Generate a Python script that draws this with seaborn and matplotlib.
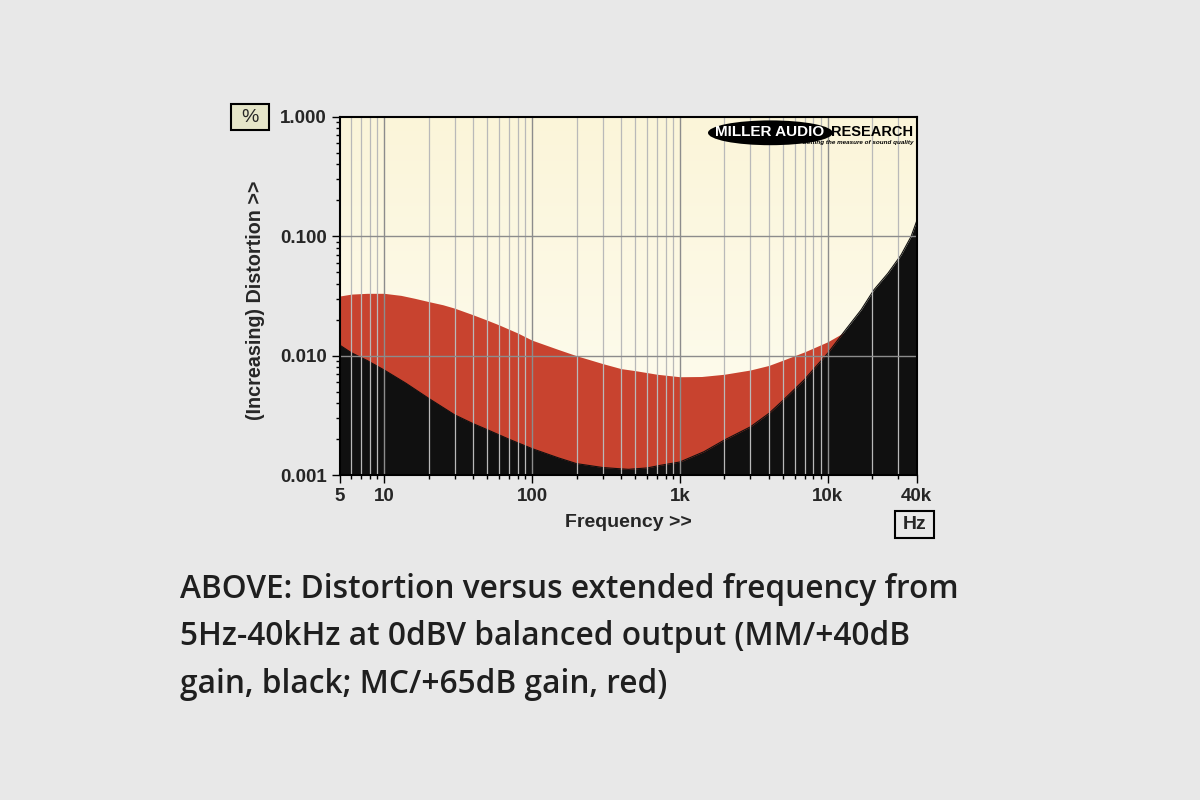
import matplotlib
matplotlib.use("Agg")
import matplotlib.pyplot as plt
import matplotlib.ticker as mticker
from matplotlib.patches import Ellipse, Rectangle
import numpy as np
import pandas as pd
import seaborn as sns

# Data (frequency in Hz, distortion in %)
mc_freq = [5, 6, 7.7, 10, 13, 16, 20, 25, 30, 40, 50, 60, 80, 100, 150, 200,
           300, 400, 500, 700, 1000, 1400, 2000, 3000, 4000, 5000, 7000,
           10000, 12800, 16000]
mc_thd = [0.0316, 0.0328, 0.0333, 0.0333, 0.0320, 0.0303, 0.0284, 0.0267,
          0.0250, 0.0220, 0.0198, 0.0181, 0.0155, 0.0135, 0.0113, 0.0100,
          0.0086, 0.0078, 0.0075, 0.0070, 0.00667, 0.00670, 0.0070, 0.0076,
          0.0083, 0.0092, 0.0108, 0.0131, 0.0156, 0.0185]

mm_freq = [5, 6, 7.7, 10, 14, 20, 30, 40, 50, 70, 100, 150, 200, 300, 400,
           450, 600, 740, 1000, 1450, 2000, 3000, 4000, 5000, 6900, 10000,
           12900, 16800, 20500, 25500, 31300, 36600, 40000]
mm_thd = [0.0123, 0.0106, 0.0091, 0.0076, 0.0059, 0.0044, 0.0032, 0.0027,
          0.0024, 0.0020, 0.00167, 0.00140, 0.00125, 0.00116, 0.00113,
          0.00112, 0.00115, 0.00121, 0.00129, 0.00157, 0.00197, 0.00254,
          0.00329, 0.00425, 0.00625, 0.0105, 0.0159, 0.0242, 0.0356, 0.049,
          0.0697, 0.0996, 0.135]

x_ticks = [5, 10, 100, 1000, 10000, 40000]
x_labels = ["5", "10", "100", "1k", "10k", "40k"]
y_ticks = [0.001, 0.01, 0.1, 1.0]
y_labels = ["0.001", "0.010", "0.100", "1.000"]

caption = ("ABOVE: Distortion versus extended frequency from\n"
           "5Hz-40kHz at 0dBV balanced output (MM/+40dB\n"
           "gain, black; MC/+65dB gain, red)")

df_mc = pd.DataFrame({"freq": mc_freq, "thd": mc_thd})
df_mm = pd.DataFrame({"freq": mm_freq, "thd": mm_thd})

sns.set_style("white")
plt.rcParams["font.family"] = ["Liberation Sans", "DejaVu Sans"]

bg = "#e8e8e8"
red = "#c8432f"
blk = "#101010"

fig = plt.figure(figsize=(12, 8), dpi=100, facecolor=bg)
ax = fig.add_axes([0.283, 0.406, 0.481, 0.448])
ax.set_xscale("log")
ax.set_yscale("log")
ax.set_xlim(5, 40000)
ax.set_ylim(0.001, 1.0)

# cream gradient background
grad = np.linspace(0, 1, 256).reshape(-1, 1)
cmap = matplotlib.colors.LinearSegmentedColormap.from_list("cream", ["#fefdf2", "#fbf5d9"])
ax.imshow(grad, cmap=cmap, aspect="auto", extent=[0, 1, 0, 1],
          transform=ax.transAxes, origin="lower", zorder=0)

ax.fill_between(df_mc["freq"], 0.001, df_mc["thd"], color=red, lw=0, zorder=1)
ax.fill_between(df_mm["freq"], 0.001, df_mm["thd"], color=blk, lw=0, zorder=2)
sns.lineplot(data=df_mm, x="freq", y="thd", ax=ax, color=blk, lw=0.8, zorder=2)

# grid on top of the fills
for dec in [1, 10, 100, 1000, 10000]:
    for m in range(2, 10):
        f = dec * m
        if 5 < f < 40000:
            ax.axvline(f, color="#b9b9b9", lw=0.9, zorder=3)
for f in [10, 100, 1000, 10000]:
    ax.axvline(f, color="#8c8c8c", lw=1, zorder=3)
for v in [0.01, 0.1]:
    ax.axhline(v, color="#8c8c8c", lw=1, zorder=3)

ax.set_xticks(x_ticks)
ax.set_xticklabels(x_labels)
ax.set_yticks(y_ticks)
ax.set_yticklabels(y_labels)
ax.xaxis.set_minor_locator(mticker.LogLocator(base=10, subs=np.arange(2, 10)))
ax.yaxis.set_minor_locator(mticker.LogLocator(base=10, subs=np.arange(2, 10)))
ax.xaxis.set_minor_formatter(mticker.NullFormatter())
ax.yaxis.set_minor_formatter(mticker.NullFormatter())
ax.tick_params(axis="both", which="both", bottom=True, left=True, top=False, right=False)
ax.tick_params(axis="both", which="major", direction="out", length=6, width=1,
               color="black", labelsize=13.5, pad=3)
ax.tick_params(axis="both", which="minor", direction="out", length=3, width=1,
               color="black")
for lab in ax.get_xticklabels() + ax.get_yticklabels():
    lab.set_fontweight("bold")
ax.set_xlabel("")
ax.set_ylabel("")
for s in ax.spines.values():
    s.set_visible(True)
    s.set_color("black")
    s.set_linewidth(1.5)
    s.set_zorder(5)

# axis titles and unit boxes
fig.text(0.213, 0.6245, "(Increasing) Distortion >>", rotation=90, ha="center",
         va="center", fontsize=14.2, fontweight="bold")
fig.text(0.5235, 0.347, "Frequency >>", ha="center", va="center",
         fontsize=14, fontweight="bold")
fig.patches.append(Rectangle((0.1925, 0.837), 0.032, 0.033, transform=fig.transFigure,
                             facecolor="#e6e6c9", edgecolor="black", lw=1.5))
fig.text(0.2085, 0.853, "%", ha="center", va="center", fontsize=14)
fig.patches.append(Rectangle((0.746, 0.328), 0.032, 0.033, transform=fig.transFigure,
                             facecolor="#e8e8e8", edgecolor="black", lw=1.5))
fig.text(0.762, 0.344, "Hz", ha="center", va="center", fontsize=14, fontweight="bold")

# logo
fig.patches.append(Ellipse((0.642, 0.834), 0.104, 0.031, transform=fig.transFigure,
                           facecolor="black", edgecolor="none", zorder=6))
fig.text(0.641, 0.835, "MILLER AUDIO", ha="center", va="center", color="white",
         fontsize=11, fontweight="bold", zorder=7)
fig.text(0.727, 0.835, "RESEARCH", ha="center", va="center", color="black",
         fontsize=10.5, fontweight="bold", zorder=7)
fig.text(0.761, 0.822, "Getting the measure of sound quality", ha="right", va="center",
         color="black", fontsize=4.5, fontweight="bold", style="italic", zorder=7)

fig.text(0.150, 0.284, caption, ha="left", va="top", fontsize=22.8,
         fontweight="semibold", color="#1f1f1f", linespacing=1.58,
         family=["Open Sans", "DejaVu Sans"])

fig.savefig("out.png", dpi=100, facecolor=bg)
